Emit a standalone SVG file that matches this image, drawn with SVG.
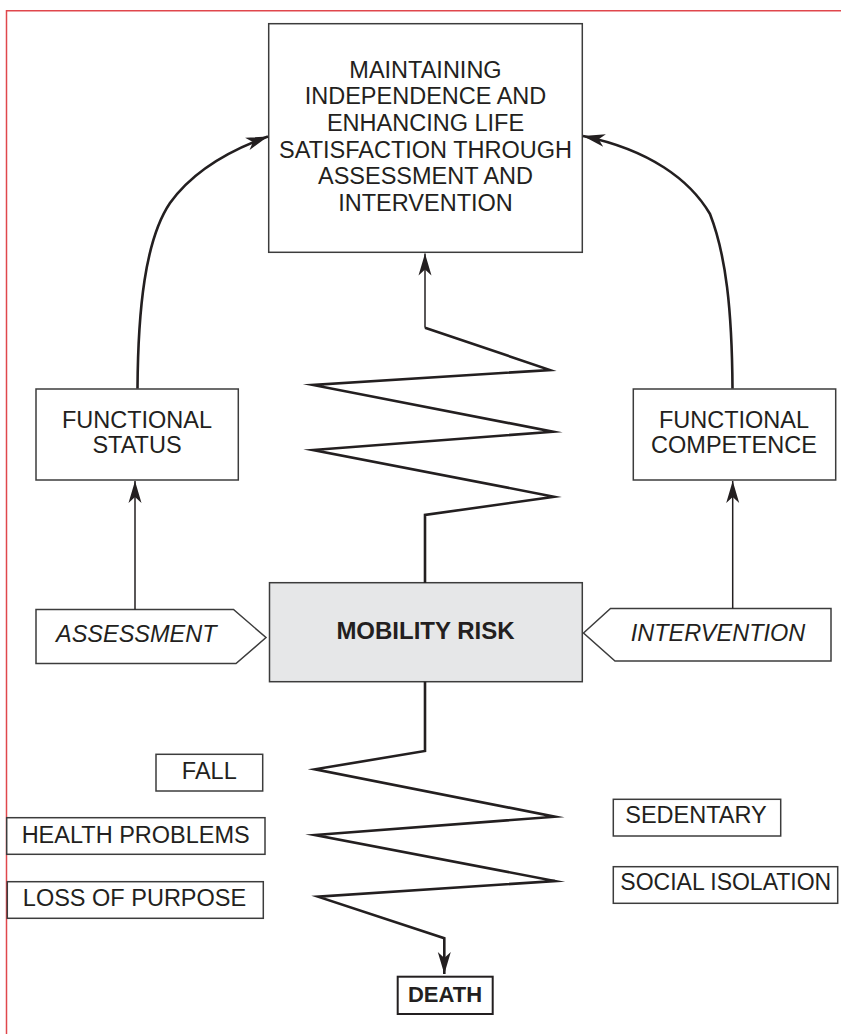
<svg xmlns="http://www.w3.org/2000/svg" width="841" height="1034" viewBox="0 0 841 1034">
<style>
  .box { fill: #ffffff; stroke: #3c3c3c; stroke-width: 1.5; }
  .t { font-family: "Liberation Sans", Arial, sans-serif; font-size: 23.5px; fill: #231f20; text-anchor: middle; }
  .it { font-style: italic; }
  .b { font-weight: bold; }
  .thick { fill: none; stroke: #231f20; stroke-width: 2.6; stroke-linejoin: miter; stroke-miterlimit: 12; }
  .thin { fill: none; stroke: #231f20; stroke-width: 1.5; }
</style>
<defs>
  <marker id="ah" viewBox="-22 -7 24 14" refX="0" refY="0" markerWidth="24" markerHeight="14" markerUnits="userSpaceOnUse" orient="auto">
    <path d="M0,0 L-22,-6.5 L-16,0 L-22,6.5 Z" fill="#231f20"/>
  </marker>
</defs>
<rect width="841" height="1034" fill="#ffffff"/>
<g id="frame">
  <path d="M6.5,1034 L6.5,10.7 L841,10.7" fill="none" stroke="#e0474c" stroke-width="1.5"/>
</g>
<g id="goal">
  <rect class="box" x="268.7" y="23.7" width="313.6" height="228.6"/>
  <text class="t" x="425.5" y="77.7">MAINTAINING</text>
  <text class="t" x="425.5" y="104.3">INDEPENDENCE AND</text>
  <text class="t" x="425.5" y="130.9">ENHANCING LIFE</text>
  <text class="t" x="425.5" y="157.5">SATISFACTION THROUGH</text>
  <text class="t" x="425.5" y="184.1">ASSESSMENT AND</text>
  <text class="t" x="425.5" y="210.7">INTERVENTION</text>
</g>
<g id="functional-status">
  <rect class="box" x="36" y="389" width="202.3" height="91"/>
  <text class="t" x="137" y="428.3">FUNCTIONAL</text>
  <text class="t" x="137" y="453.3">STATUS</text>
</g>
<g id="functional-competence">
  <rect class="box" x="633.3" y="389" width="202.4" height="91"/>
  <text class="t" x="734" y="428.3">FUNCTIONAL</text>
  <text class="t" x="734" y="453.3">COMPETENCE</text>
</g>
<g id="assessment">
  <polygon class="box" points="36,609.5 233.5,609.5 266,637.5 236,663.5 36,663.5"/>
  <text class="t it" x="136.3" y="641.7">ASSESSMENT</text>
</g>
<g id="intervention">
  <polygon class="box" points="583.5,633 610.5,608.5 831,608.5 831,661 615,661"/>
  <text class="t it" x="718" y="640.7">INTERVENTION</text>
</g>
<g id="mobility-risk">
  <rect x="269.5" y="582.7" width="312.8" height="99" fill="#e6e7e8" stroke="#3c3c3c" stroke-width="1.5"/>
  <text class="t b" x="425.5" y="639.3" style="font-size:24px">MOBILITY RISK</text>
</g>
<g id="fall">
  <rect class="box" x="156" y="754.3" width="106.7" height="36.7"/>
  <text class="t" x="209.3" y="779">FALL</text>
</g>
<g id="health-problems">
  <rect class="box" x="6.7" y="817.7" width="258.3" height="36.6"/>
  <text class="t" x="135.7" y="842.7">HEALTH PROBLEMS</text>
</g>
<g id="loss-of-purpose">
  <rect class="box" x="7.3" y="881.7" width="256" height="36.6"/>
  <text class="t" x="134.5" y="905.7">LOSS OF PURPOSE</text>
</g>
<g id="sedentary">
  <rect class="box" x="613.3" y="799.3" width="167.4" height="36.7"/>
  <text class="t" x="696" y="823.3">SEDENTARY</text>
</g>
<g id="social-isolation">
  <rect class="box" x="613.3" y="866.7" width="224.4" height="36.6"/>
  <text class="t" x="725.8" y="890" style="font-size:23px">SOCIAL ISOLATION</text>
</g>
<g id="death">
  <rect x="397.7" y="976.7" width="95" height="37.3" fill="#ffffff" stroke="#231f20" stroke-width="2"/>
  <text class="t b" x="445" y="1001.7" style="font-size:22px">DEATH</text>
</g>
<g id="connectors">
  <path class="thick" d="M137.5,388.5 C138,310 145,240 170,203 C190,175 225,152 268,136.5" marker-end="url(#ah)"/>
  <path class="thick" d="M732.5,388.5 C732,310 726,255 710,214 C690,180 650,150 583,136" marker-end="url(#ah)"/>
  <path class="thin" d="M135,609.5 L135,481" marker-end="url(#ah)"/>
  <path class="thin" d="M732.7,608.5 L732.7,481" marker-end="url(#ah)"/>
  <path class="thin" d="M425,327.7 L425,253.5" marker-end="url(#ah)"/>
  <path class="thick" d="M425,583 L425,515 L554,496.7 L313,450 L553,431.7 L313,385 L550,370 L425,327.7"/>
  <path class="thick" d="M425,681.7 L425,751 L315,769.3 L555,816.7 L315,835 L555,881 L318,896.7 L444.3,938.3 L444.3,974" marker-end="url(#ah)"/>
</g>
</svg>
